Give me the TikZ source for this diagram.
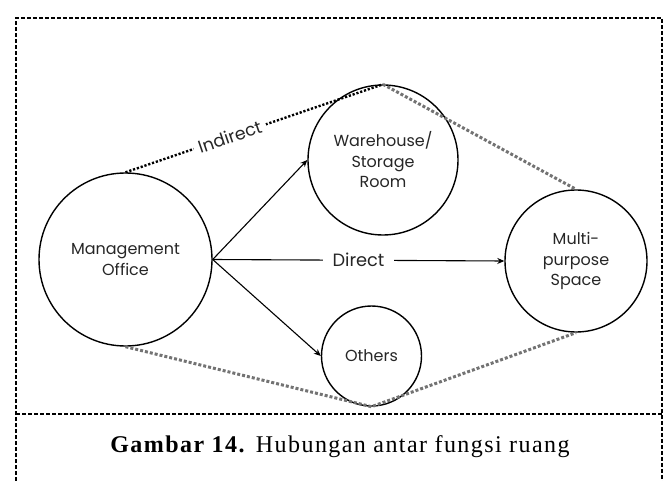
\documentclass[tikz,border=0pt]{standalone}
\usepackage{fontspec}
\setmainfont{Liberation Serif}
\newfontfamily\popfont{Poppins}
\usetikzlibrary{arrows.meta}
\begin{document}
\begin{tikzpicture}[x=1pt,y=-1pt,
  room/.style={circle,draw=black,line width=1.4pt,inner sep=0pt,align=center,
    font=\popfont\fontsize{16}{20.5}\selectfont,text=black!85},
  conn/.style={line width=1.1pt,-{Stealth[length=7pt,width=6pt]}},
  indir/.style={line width=2.4pt,dash pattern=on 2.2pt off 1.8pt,black},
  grayind/.style={line width=3pt,dash pattern=on 3pt off 2pt,black!55},
  frame/.style={line width=1.3pt,dash pattern=on 4pt off 2pt}]
\useasboundingbox (0,0) rectangle (664,481);
% frame
\draw[frame] (16,481) -- (16,18) -- (662,18) -- (662,481);
\draw[frame] (16,414) -- (662,414);
% rooms
\node[room,minimum size=173pt] (mo) at (125.5,259.5) {Management\\Office};
\node[room,minimum size=150pt] (wh) at (383,160) {Warehouse/\\Storage\\Room};
\node[room,minimum size=142pt] (mp) at (576,261) {Multi-\\purpose\\Space};
\node[room,minimum size=100pt] (ot) at (371.5,356) {Others};
% indirect relations
\draw[indir] (mo.north) -- node[pos=0.405,fill=white,inner xsep=5pt,inner ysep=0pt,rotate=18.9,
  text=black!85,font=\popfont\fontsize{17.5}{19}\selectfont] {Indirect} (wh.north);
\draw[grayind] (wh.north) -- (mp.north);
\draw[grayind] (mo.south) -- (ot.south) -- (mp.south);
% direct relations
\draw[conn] (mo.east) -- (wh.west);
\draw[conn] (mo.east) -- (ot.west);
\draw[conn] (mo.east) -- node[pos=0.5,fill=white,inner xsep=10pt,text=black!85,
  font=\popfont\fontsize{17.8}{19}\selectfont] {Direct} (mp.west);
% caption
\node[anchor=base,font=\fontsize{24}{28}\selectfont\addfontfeature{LetterSpace=6}] (cap) at (340,452)
  {\textbf{Gambar 14.} Hubungan antar fungsi ruang};
\end{tikzpicture}
\end{document}
